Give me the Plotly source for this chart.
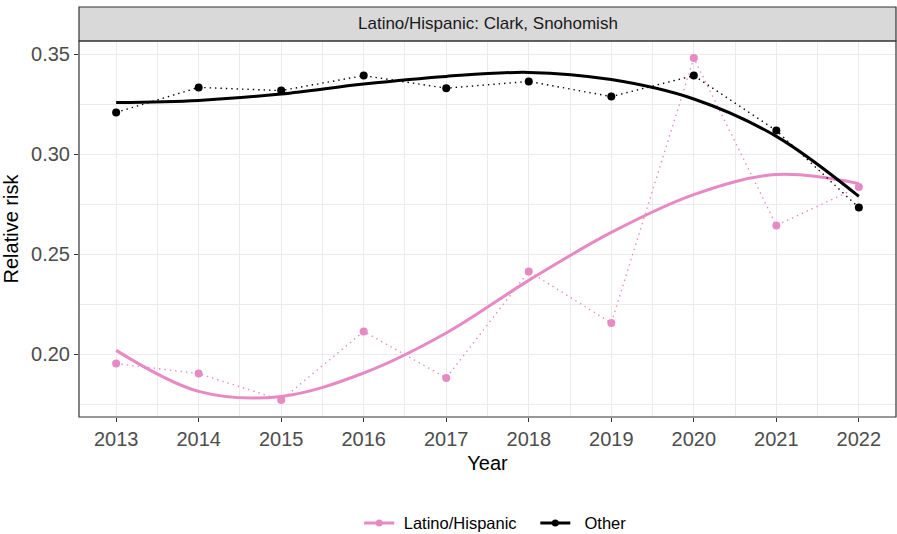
import plotly.graph_objects as go

years = [2013, 2014, 2015, 2016, 2017, 2018, 2019, 2020, 2021, 2022]
latino_obs = [0.1952, 0.1902, 0.1770, 0.2113, 0.1880, 0.2413, 0.2155, 0.3480, 0.2643, 0.2835]
other_obs = [0.3208, 0.3333, 0.3317, 0.3392, 0.3329, 0.3363, 0.3287, 0.3392, 0.3117, 0.2732]
# smoothed trend values
latino_smooth = [0.2018, 0.1813, 0.1788, 0.1905, 0.2105, 0.2368, 0.2608, 0.2797, 0.2897, 0.2852]
other_smooth = [0.3257, 0.3268, 0.3300, 0.3350, 0.3388, 0.3408, 0.3372, 0.3275, 0.3088, 0.2788]
series_names = ["Latino/Hispanic", "Other"]
strip_title = "Latino/Hispanic: Clark, Snohomish"

PINK = "#E78AC3"
BLACK = "#000000"
FONT = "Arial, Liberation Sans, sans-serif"
NB = "\u00a0"
legend_labels = [NB + series_names[0] + NB * 3, NB * 2 + series_names[1]]

fig = go.Figure()
for label, obs, sm, col in [(legend_labels[0], latino_obs, latino_smooth, PINK),
                            (legend_labels[1], other_obs, other_smooth, BLACK)]:
    fig.add_trace(go.Scatter(x=years, y=obs, mode="lines+markers",
                             line=dict(color=col, width=1.4, dash="1.4px,4px"),
                             marker=dict(color=col, size=8),
                             showlegend=False, hoverinfo="x+y"))
    fig.add_trace(go.Scatter(x=years, y=sm, mode="lines",
                             line=dict(color=col, width=3, shape="spline", smoothing=1.0),
                             showlegend=False))
    fig.add_trace(go.Scatter(x=[None], y=[None], mode="lines+markers", name=label,
                             line=dict(color=col, width=3),
                             marker=dict(color=col, size=7)))

plot_h = 417 - 41
fig.add_shape(type="rect", xref="paper", yref="paper", x0=0, x1=1, y0=1, y1=1 + 34 / plot_h,
              fillcolor="#D9D9D9", line=dict(color="#333333", width=1.2), layer="above")
fig.add_shape(type="rect", xref="paper", yref="paper", x0=0, x1=1, y0=0, y1=1,
              fillcolor="rgba(0,0,0,0)", line=dict(color="#333333", width=1.2), layer="above")
fig.add_annotation(text=strip_title, xref="paper", yref="paper", x=0.5, y=1 + 17 / plot_h,
                   showarrow=False, font=dict(family=FONT, size=17, color="#1A1A1A"),
                   xanchor="center", yanchor="middle")

fig.update_layout(
    width=897, height=534,
    margin=dict(l=79, r=1, t=41, b=117),
    paper_bgcolor="white", plot_bgcolor="white",
    font=dict(family=FONT, color="#000000"),
    legend=dict(orientation="h", xref="paper", x=0.51, xanchor="center",
                yref="container", y=0.02, yanchor="middle",
                font=dict(family=FONT, size=16.5, color="#000000"),
                itemwidth=30),
    xaxis=dict(range=[2012.55, 2022.45], tickmode="array", tickvals=years,
               ticktext=[str(y) for y in years],
               showgrid=True, gridcolor="#EBEBEB", gridwidth=1.1,
               minor=dict(tickmode="array", tickvals=[y + 0.5 for y in years[:-1]],
                          showgrid=True, gridcolor="#EBEBEB", gridwidth=0.6),
               ticks="outside", ticklen=4, tickcolor="#333333",
               tickfont=dict(family=FONT, size=20, color="#4D4D4D"),
               showline=False, zeroline=False,
               title=dict(text="Year", font=dict(family=FONT, size=20, color="#000000"), standoff=6)),
    yaxis=dict(range=[0.1685, 0.3565], tickmode="array", tickvals=[0.20, 0.25, 0.30, 0.35],
               ticktext=["0.20", "0.25", "0.30", "0.35"],
               showgrid=True, gridcolor="#EBEBEB", gridwidth=1.1,
               minor=dict(tickmode="array", tickvals=[0.175, 0.225, 0.275, 0.325],
                          showgrid=True, gridcolor="#EBEBEB", gridwidth=0.6),
               ticks="outside", ticklen=4, tickcolor="#333333",
               tickfont=dict(family=FONT, size=20, color="#4D4D4D"),
               showline=False, zeroline=False,
               title=dict(text="Relative risk", font=dict(family=FONT, size=20, color="#000000"), standoff=8)),
)

fig.write_html("out.html")
